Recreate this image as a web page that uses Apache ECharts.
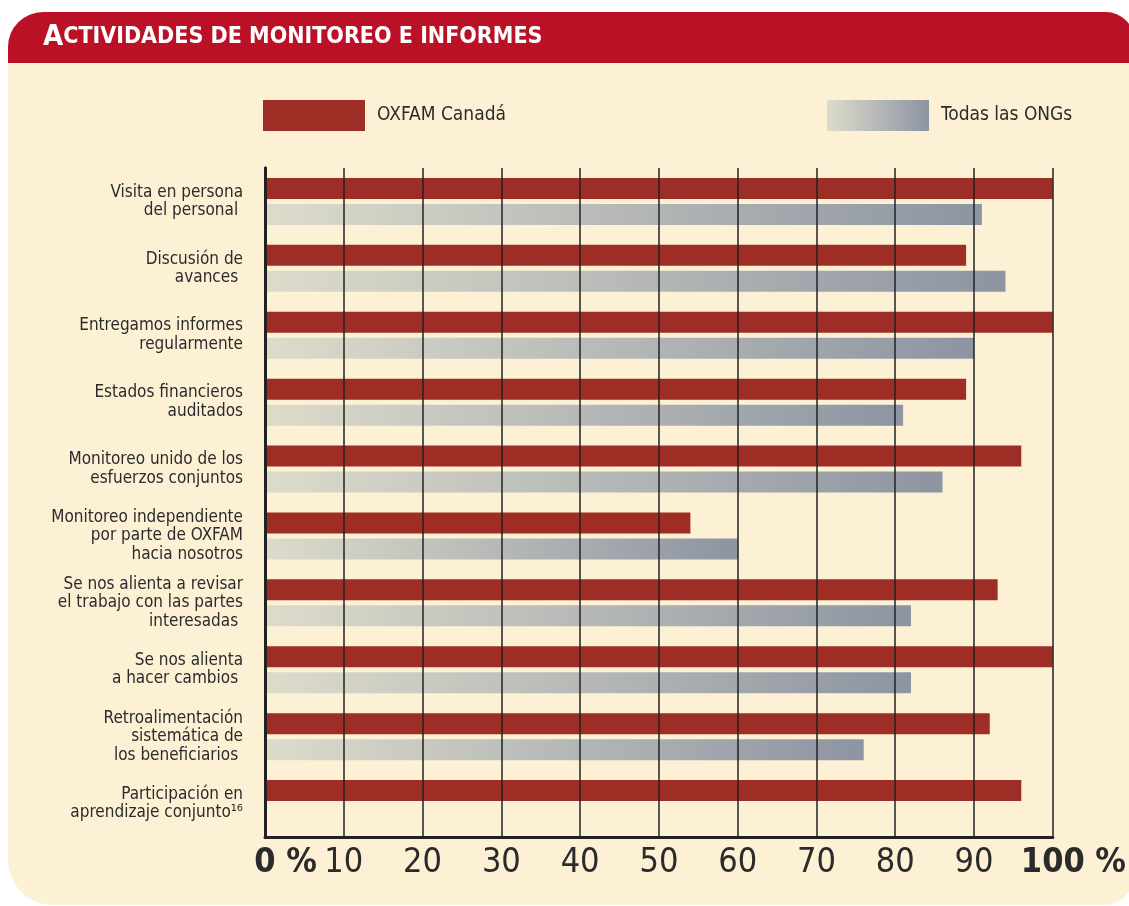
<!DOCTYPE html>
<html>
<head>
<meta charset="utf-8">
<script src="https://cdn.jsdelivr.net/npm/echarts@6/dist/echarts.min.js"></script>
<style>
html,body{margin:0;padding:0;background:#ffffff;}
#chart{width:1129px;height:906px;}
</style>
</head>
<body>
<div id="chart"></div>
<script>
const titleText = 'CTIVIDADES DE MONITOREO E INFORMES';
const titleInitial = 'A';
const seriesNames = ['OXFAM Canadá', 'Todas las ONGs'];
const categories = [
  'Visita en persona\ndel personal ',
  'Discusión de\navances ',
  'Entregamos informes\nregularmente',
  'Estados financieros\nauditados',
  'Monitoreo unido de los\nesfuerzos conjuntos',
  'Monitoreo independiente\npor parte de OXFAM\nhacia nosotros',
  'Se nos alienta a revisar\nel trabajo con las partes\ninteresadas ',
  'Se nos alienta\na hacer cambios ',
  'Retroalimentación\nsistemática de\nlos beneficiarios ',
  'Participación en\naprendizaje conjunto¹⁶'
];
const oxfam = [100, 89, 100, 89, 96, 54, 93, 100, 92, 96];
const todas = [91, 94, 90, 81, 86, 60, 82, 82, 76, null];

const FONT = '"DejaVu Sans Condensed", "Liberation Sans Narrow", sans-serif';
const TXT = '#2b2b2b';
const CREAM = '#fdf1d5';

const chart = echarts.init(document.getElementById('chart'), null, {renderer: 'canvas'});

const option = {
  backgroundColor: '#ffffff',
  animation: false,
  graphic: [
    {type: 'rect', z: -10, shape: {x: 8, y: 12, width: 1126, height: 893, r: [35, 28, 30, 45]}, style: {fill: CREAM}},
    {type: 'rect', z: -9, shape: {x: 8, y: 12, width: 1126, height: 51, r: [35, 28, 0, 0]}, style: {fill: '#bb1126'}},
    {type: 'text', z: 10, x: 43, y: 52,
      style: {
        text: '{a|' + titleInitial + '}{s|' + titleText + '}',
        verticalAlign: 'bottom',
        rich: {
          a: {fontFamily: FONT, fontWeight: 'bold', fontSize: 29, fill: '#ffffff', lineHeight: 29},
          s: {fontFamily: FONT, fontWeight: 'bold', fontSize: 23, fill: '#ffffff', lineHeight: 25}
        }
      }
    }
  ],
  legend: [
    {data: [seriesNames[0]], left: 263, top: 100, padding: 0, itemWidth: 102, itemHeight: 31, icon: 'rect',
      textStyle: {fontFamily: FONT, fontSize: 19, color: TXT, padding: [0, 0, 0, 7]}},
    {data: [seriesNames[1]], left: 827, top: 100, padding: 0, itemWidth: 102, itemHeight: 31, icon: 'rect',
      textStyle: {fontFamily: FONT, fontSize: 19, color: TXT, padding: [0, 0, 0, 7]}}
  ],
  grid: {left: 265, right: 74, top: 168, bottom: 69, containLabel: false},
  xAxis: [
    {
      type: 'value', min: 0, max: 100, interval: 10, z: 5, position: 'bottom',
      axisLine: {show: true, lineStyle: {color: '#222', width: 3}},
      axisTick: {show: false},
      splitLine: {show: true, lineStyle: {color: '#222', width: 1.5}},
      axisLabel: {
        margin: 9, hideOverlap: false,
        fontFamily: FONT, fontSize: 34, color: TXT,
        formatter: function (v) {
          if (v === 0 || v === 100) return '';
          return String(v);
        }
      }
    },
    {
      type: 'value', min: 0, max: 100, interval: 10, z: 5, position: 'bottom',
      axisLine: {show: false},
      axisTick: {show: false},
      splitLine: {show: false},
      axisLabel: {
        margin: 9, hideOverlap: false, showMinLabel: true, showMaxLabel: true,
        fontFamily: FONT, fontSize: 34, color: TXT,
        formatter: function (v) {
          if (v === 0) return '{h| %}{b|0}{b| %}';
          if (v === 100) return '{h| %}{b|100}{b| %}';
          return '';
        },
        rich: {
          b: {fontFamily: FONT, fontSize: 34, fontWeight: 'bold', color: TXT},
          h: {fontFamily: FONT, fontSize: 34, fontWeight: 'bold', color: 'rgba(0,0,0,0)'}
        }
      }
    }
  ],
  yAxis: [
    {
      type: 'category', data: categories, inverse: true, z: 5,
      axisLine: {show: true, lineStyle: {color: '#222', width: 3}},
      axisTick: {show: false},
      axisLabel: {margin: 22, fontFamily: FONT, fontSize: 17, lineHeight: 18.5, color: TXT, align: 'right'}
    },
    {
      type: 'category', data: categories, inverse: true, position: 'right', z: 5,
      axisLine: {show: true, lineStyle: {color: '#222', width: 3}},
      axisTick: {show: false},
      axisLabel: {show: false}
    }
  ],
  series: [
    {
      name: seriesNames[0], type: 'bar', data: oxfam, xAxisIndex: 0, yAxisIndex: 0,
      barWidth: 21, barGap: '24%',
      itemStyle: {color: '#9e2e25'}
    },
    {
      name: seriesNames[1], type: 'bar', data: todas, xAxisIndex: 0, yAxisIndex: 0,
      barWidth: 21, barGap: '24%',
      itemStyle: {color: new echarts.graphic.LinearGradient(0, 0, 1, 0, [
        {offset: 0, color: '#dddccb'},
        {offset: 1, color: '#8d94a2'}
      ])}
    }
  ]
};
chart.setOption(option);
</script>
</body>
</html>
